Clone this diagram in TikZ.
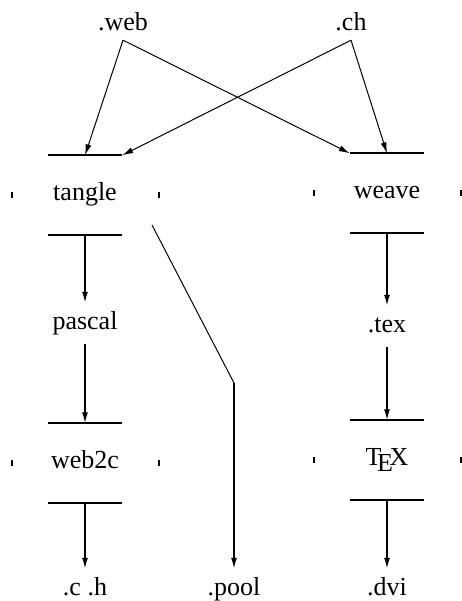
\documentclass[tikz,border=0pt]{standalone}
\usepackage{fontspec}
\setmainfont{Liberation Serif}
\newfontfamily\diagfont{Liberation Serif}
\usetikzlibrary{arrows.meta,calc}
\begin{document}
\begin{tikzpicture}[x=1pt,y=-1pt,
  lbl/.style={font=\diagfont\fontsize{26}{30}\selectfont, text height=16pt, text depth=5pt, inner ysep=10pt, inner xsep=2pt},
  toplbl/.style={lbl, inner ysep=4pt},
  proc/.style={lbl, minimum width=74pt, minimum height=79pt, inner ysep=0pt},
  boxline/.style={line width=2.2pt},
  tickmark/.style={line width=1.6pt},
  arr/.style={line width=1.6pt, -{Latex[length=11pt,width=6pt]}},
  thin arr/.style={line width=1pt, -{Latex[length=11pt,width=6pt]}},
]
\useasboundingbox (0,0) rectangle (462,601);

% labels
\node[toplbl, anchor=base] (web) at (123,31) {.web};
\node[toplbl, anchor=base] (ch) at (351,31) {.ch};
\node[lbl, anchor=base] (pascal) at (85,329) {pascal};
\node[lbl, anchor=base] (texf) at (387,332) {.tex};
\node[lbl, anchor=base] (ch2) at (85,595) {.c .h};
\node[lbl, anchor=base] (pool) at (234,595) {.pool};
\node[lbl, anchor=base] (dvi) at (387,595) {.dvi};

% processes
\node[proc] (tangle) at (85,195) {tangle};
\node[proc] (weave) at (387,193) {weave};
\node[proc] (web2c) at (85,463) {web2c};
\node[proc] (tex) at (387,460) {\TeX};

\foreach \n in {tangle,weave,web2c,tex}{
  \draw[boxline] (\n.north west) -- (\n.north east);
  \draw[boxline] (\n.south west) -- (\n.south east);
  \draw[tickmark] ($(\n.west)+(-36,-3)$) -- ++(0,6);
  \draw[tickmark] ($(\n.east)+(37,-3)$) -- ++(0,6);
}

% connectors
\draw[thin arr] (web.south) -- (tangle.north);
\draw[thin arr] (web.south) -- (weave.north west);
\draw[thin arr] (ch.south) -- (tangle.north east);
\draw[thin arr] (ch.south) -- (weave.north);

\draw[arr] (tangle.south) -- (pascal.north);
\draw[arr] (pascal.south) -- (web2c.north);
\draw[arr] (web2c.south) -- (ch2.north);

\draw[arr] (weave.south) -- (texf.north);
\draw[arr] (texf.south) -- (tex.north);
\draw[arr] (tex.south) -- (dvi.north);

\coordinate (ps) at ($(tangle.center)+(67,30)$);
\coordinate (pb) at (234,383);
\draw[line width=1pt] (ps) -- (pb);
\draw[arr] (pb) -- (pool.north);
\end{tikzpicture}
\end{document}
